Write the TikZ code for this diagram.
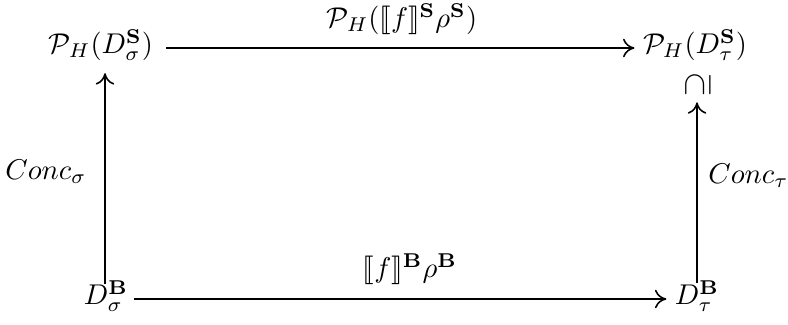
\documentclass[tikz,border=0pt]{standalone}
\usepackage{amsmath,amssymb,stmaryrd,graphicx}
\usetikzlibrary{arrows.meta}
\begin{document}
\begin{tikzpicture}[x=0.35pt,y=-0.35pt,
  obj/.style={inner sep=0pt,font=\fontsize{10}{12}\selectfont},
  lab/.style={inner sep=1pt,font=\fontsize{10}{12}\selectfont},
  arr/.style={-{To[length=4pt,width=6.5pt]},line width=0.55pt}]
\useasboundingbox (0,0) rectangle (788,324);
\node[obj] (tl) at (101,45) {$\mathcal{P}_H(D^{\mathbf{S}}_{\sigma})$};
\node[obj] (tr) at (695,45) {$\mathcal{P}_H(D^{\mathbf{S}}_{\tau})$};
\node[obj] (sub) at (698,85) {\scalebox{1.15}{\rotatebox{90}{$\supseteq$}}};
\node[obj] (bl) at (106,296) {$D^{\mathbf{B}}_{\sigma}$};
\node[obj] (br) at (697,296) {$D^{\mathbf{B}}_{\tau}$};
\draw[arr,shorten <=4.5pt,shorten >=2.8pt] ([yshift=-1.05pt]tl.east) -- ([yshift=-1.05pt]tr.west);
\draw[arr,shorten <=1.75pt,shorten >=2.8pt] ([yshift=-1.05pt]bl.east) -- ([yshift=-1.05pt]br.west);
\draw[arr,shorten <=-1.5pt,shorten >=4.2pt] ([xshift=-0.35pt]bl.north) -- ([xshift=-0.35pt]bl.north |- tl.south);
\draw[arr,shorten <=-1pt,shorten >=1.4pt] (br.north) -- (br.north |- sub.south);
\node[lab] (ltop) at (402,19) {$\mathcal{P}_H(\llbracket f\rrbracket^{\mathbf{S}}\rho^{\mathbf{S}})$};
\node[lab] (lbot) at (410,269) {$\llbracket f\rrbracket^{\mathbf{B}}\rho^{\mathbf{B}}$};
\node[lab,anchor=east] (lleft) at (90,172) {$Conc_{\sigma}$};
\node[lab,anchor=west] (lright) at (705,176) {$Conc_{\tau}$};
\end{tikzpicture}
\end{document}
